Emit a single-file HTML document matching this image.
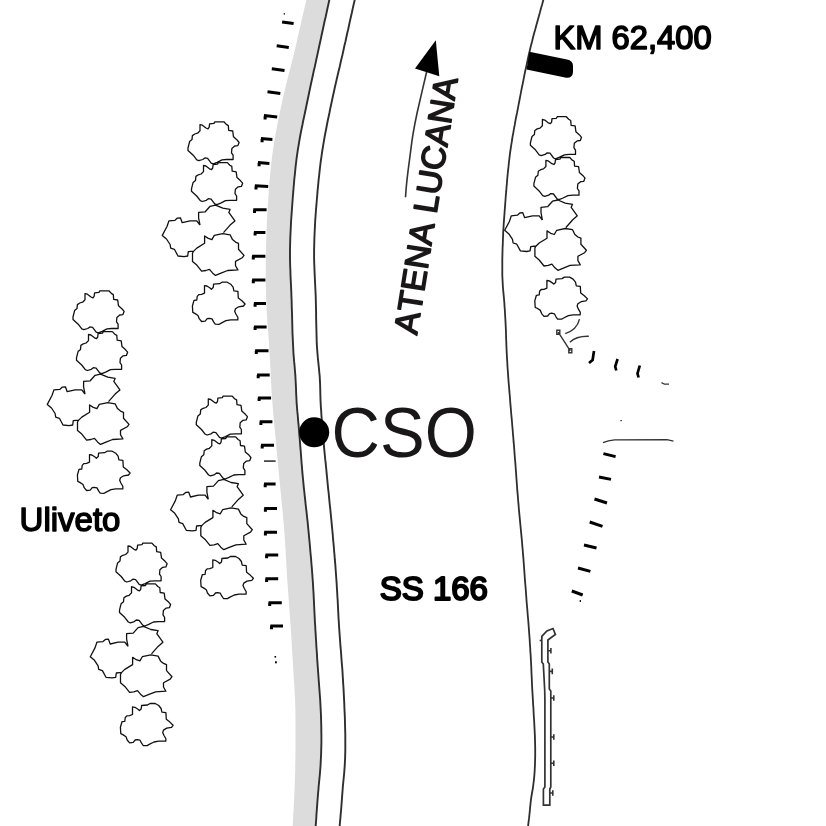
<!DOCTYPE html>
<html lang="it"><head><meta charset="utf-8"><title>CSO - SS 166</title>
<style>html,body{margin:0;padding:0;background:#fff}body{width:826px;height:826px;overflow:hidden}svg{display:block;will-change:transform}text{font-family:"Liberation Sans",Arial,Helvetica,sans-serif;fill:#000}.b{font-size:33px;font-kerning:none;stroke:#000;stroke-width:2px;stroke-linejoin:round}.u{font-size:33px;stroke:#000;stroke-width:1.5px;stroke-linejoin:round}.ln{fill:none;stroke:#2e2e2e;stroke-width:1.9;stroke-linejoin:round}.tr{fill:none;stroke:#111;stroke-width:1.3;stroke-linejoin:round}.tk{fill:none;stroke:#000;stroke-width:3;stroke-linecap:butt}.th{fill:none;stroke:#333;stroke-width:1.4}</style></head><body>
<svg width="826" height="826" viewBox="0 0 826 826">
<rect width="826" height="826" fill="#fff"/>
<path d="M308.6,-10.0L307.5,-5.0L306.3,0.0L305.3,4.2L304.4,8.3L303.4,12.5L302.5,16.7L301.5,20.8L300.6,25.0L299.6,29.2L298.7,33.3L297.7,37.5L296.8,41.7L295.8,45.8L294.8,50.0L293.8,54.2L292.8,58.3L291.7,62.5L290.7,66.7L289.6,70.8L288.5,75.0L287.5,79.2L286.4,83.3L285.4,87.5L284.4,91.7L283.4,95.8L282.5,100.0L281.6,104.2L280.7,108.3L279.8,112.5L279.0,116.7L278.1,120.8L277.3,125.0L276.5,129.2L275.7,133.3L275.0,137.5L274.3,141.7L273.6,145.8L273.0,150.0L272.4,154.2L271.9,158.3L271.4,162.5L271.0,166.7L270.5,170.8L270.1,175.0L269.8,179.2L269.4,183.3L269.1,187.5L268.8,191.7L268.5,195.8L268.2,200.0L267.9,204.2L267.7,208.3L267.4,212.5L267.2,216.7L267.0,220.8L266.8,225.0L266.6,229.2L266.5,233.3L266.3,237.5L266.2,241.7L266.1,245.8L266.0,250.0L265.9,254.2L265.9,258.3L265.8,262.5L265.8,266.7L265.8,270.8L265.8,275.0L265.8,279.2L265.8,283.3L265.9,287.5L266.0,291.7L266.1,295.8L266.2,300.0L266.4,304.2L266.6,308.3L266.8,312.5L267.1,316.7L267.3,320.8L267.6,325.0L267.9,329.2L268.3,333.3L268.6,337.5L268.9,341.7L269.1,345.8L269.4,350.0L269.6,354.2L269.9,358.3L270.1,362.5L270.3,366.7L270.5,370.8L270.7,375.0L270.9,379.2L271.1,383.3L271.4,387.5L271.6,391.7L271.9,395.8L272.2,400.0L272.5,403.8L272.8,407.5L273.1,411.2L273.4,415.0L273.8,418.8L274.1,422.5L274.5,426.2L274.8,430.0L275.2,434.2L275.6,438.3L275.9,442.5L276.3,446.7L276.7,450.8L277.1,455.0L277.5,459.2L277.9,463.3L278.3,467.5L278.7,471.7L279.1,475.8L279.5,480.0L279.9,484.2L280.3,488.3L280.7,492.5L281.1,496.7L281.5,500.8L281.9,505.0L282.4,509.2L282.8,513.3L283.1,517.5L283.5,521.7L283.9,525.8L284.2,530.0L284.5,534.2L284.8,538.3L285.1,542.5L285.3,546.7L285.6,550.8L285.8,555.0L286.1,559.2L286.3,563.3L286.5,567.5L286.8,571.7L287.0,575.8L287.3,580.0L287.6,584.2L287.9,588.3L288.2,592.5L288.5,596.7L288.8,600.8L289.1,605.0L289.4,609.2L289.7,613.3L290.0,617.5L290.3,621.7L290.6,625.8L290.9,630.0L291.2,634.2L291.4,638.3L291.7,642.5L291.9,646.7L292.2,650.8L292.4,655.0L292.7,659.2L292.9,663.3L293.2,667.5L293.4,671.7L293.7,675.8L293.9,680.0L294.2,684.0L294.4,688.0L294.7,692.0L294.9,696.0L295.1,700.0L295.2,703.8L295.3,707.5L295.4,711.2L295.4,715.0L295.5,718.8L295.5,722.5L295.5,726.2L295.5,730.0L295.5,734.0L295.5,738.0L295.5,742.0L295.5,746.0L295.5,750.0L295.4,754.0L295.4,758.0L295.3,762.0L295.2,766.0L295.2,770.0L295.1,774.0L295.0,778.0L294.8,782.0L294.7,786.0L294.5,790.0L294.4,794.0L294.2,798.0L294.0,802.0L293.8,806.0L293.6,810.0L293.3,814.0L293.1,818.0L292.9,822.0L292.7,826.0L292.4,831.0L292.2,836.0L315.0,836.0L315.3,831.0L315.7,826.0L316.0,822.0L316.3,818.0L316.5,814.0L316.8,810.0L317.1,806.0L317.4,802.0L317.7,798.0L318.0,794.0L318.4,790.0L318.7,786.0L319.1,782.0L319.5,778.0L319.9,774.0L320.2,770.0L320.5,766.1L320.7,762.2L320.9,758.3L321.1,754.4L321.2,750.6L321.3,746.7L321.4,742.8L321.4,738.9L321.4,735.0L321.3,731.1L321.3,727.2L321.2,723.3L321.1,719.4L321.0,715.6L320.8,711.7L320.6,707.8L320.4,703.9L320.2,700.0L319.9,696.0L319.6,692.0L319.3,688.0L319.0,684.0L318.7,680.0L318.4,675.8L318.1,671.7L317.8,667.5L317.5,663.3L317.2,659.2L317.0,655.0L316.7,650.8L316.4,646.7L316.2,642.5L315.9,638.3L315.7,634.2L315.4,630.0L315.2,625.8L314.9,621.7L314.7,617.5L314.5,613.3L314.3,609.2L314.1,605.0L313.9,600.8L313.7,596.7L313.5,592.5L313.2,588.3L313.0,584.2L312.7,580.0L312.4,575.8L312.1,571.7L311.8,567.5L311.4,563.3L311.1,559.2L310.7,555.0L310.3,550.8L310.0,546.7L309.6,542.5L309.2,538.3L308.8,534.2L308.4,530.0L308.0,525.8L307.6,521.7L307.1,517.5L306.7,513.3L306.2,509.2L305.7,505.0L305.3,500.8L304.8,496.7L304.4,492.5L303.9,488.3L303.5,484.2L303.1,480.0L302.7,475.8L302.3,471.7L302.0,467.5L301.6,463.3L301.3,459.2L301.0,455.0L300.7,450.8L300.3,446.7L300.0,442.5L299.7,438.3L299.3,434.2L299.0,430.0L298.7,426.2L298.3,422.5L298.0,418.8L297.7,415.0L297.3,411.2L297.0,407.5L296.7,403.8L296.5,400.0L296.3,396.0L296.1,392.0L296.0,388.0L295.8,384.0L295.6,380.0L295.4,376.2L295.1,372.5L294.8,368.8L294.5,365.0L294.1,361.2L293.8,357.5L293.5,353.8L293.3,350.0L293.1,345.8L292.9,341.7L292.7,337.5L292.5,333.3L292.4,329.2L292.3,325.0L292.2,320.8L292.1,316.7L292.0,312.5L291.8,308.3L291.7,304.2L291.6,300.0L291.4,295.8L291.3,291.7L291.1,287.5L290.9,283.3L290.7,279.2L290.5,275.0L290.4,270.8L290.2,266.7L290.1,262.5L290.0,258.3L290.0,254.2L290.0,250.0L290.1,245.8L290.2,241.7L290.3,237.5L290.5,233.3L290.7,229.2L290.9,225.0L291.1,220.8L291.4,216.7L291.7,212.5L292.0,208.3L292.3,204.2L292.6,200.0L292.9,195.8L293.3,191.7L293.6,187.5L294.0,183.3L294.3,179.2L294.8,175.0L295.2,170.8L295.6,166.7L296.1,162.5L296.6,158.3L297.2,154.2L297.8,150.0L298.5,145.8L299.2,141.7L299.9,137.5L300.7,133.3L301.5,129.2L302.4,125.0L303.2,120.8L304.1,116.7L305.0,112.5L305.9,108.3L306.7,104.2L307.6,100.0L308.5,95.8L309.3,91.7L310.2,87.5L311.1,83.3L312.0,79.2L312.9,75.0L313.8,70.8L314.8,66.7L315.7,62.5L316.6,58.3L317.5,54.2L318.4,50.0L319.3,45.8L320.2,41.7L321.1,37.5L322.0,33.3L322.9,29.2L323.8,25.0L324.7,20.8L325.7,16.7L326.6,12.5L327.5,8.3L328.4,4.2L329.3,0.0L330.4,-5.0L331.5,-10.0Z" fill="#dcdcdc"/>
<path class="ln" d="M331.5,-10.0L330.4,-5.0L329.3,0.0L328.4,4.2L327.5,8.3L326.6,12.5L325.7,16.7L324.7,20.8L323.8,25.0L322.9,29.2L322.0,33.3L321.1,37.5L320.2,41.7L319.3,45.8L318.4,50.0L317.5,54.2L316.6,58.3L315.7,62.5L314.8,66.7L313.8,70.8L312.9,75.0L312.0,79.2L311.1,83.3L310.2,87.5L309.3,91.7L308.5,95.8L307.6,100.0L306.7,104.2L305.9,108.3L305.0,112.5L304.1,116.7L303.2,120.8L302.4,125.0L301.5,129.2L300.7,133.3L299.9,137.5L299.2,141.7L298.5,145.8L297.8,150.0L297.2,154.2L296.6,158.3L296.1,162.5L295.6,166.7L295.2,170.8L294.8,175.0L294.3,179.2L294.0,183.3L293.6,187.5L293.3,191.7L292.9,195.8L292.6,200.0L292.3,204.2L292.0,208.3L291.7,212.5L291.4,216.7L291.1,220.8L290.9,225.0L290.7,229.2L290.5,233.3L290.3,237.5L290.2,241.7L290.1,245.8L290.0,250.0L290.0,254.2L290.0,258.3L290.1,262.5L290.2,266.7L290.4,270.8L290.5,275.0L290.7,279.2L290.9,283.3L291.1,287.5L291.3,291.7L291.4,295.8L291.6,300.0L291.7,304.2L291.8,308.3L292.0,312.5L292.1,316.7L292.2,320.8L292.3,325.0L292.4,329.2L292.5,333.3L292.7,337.5L292.9,341.7L293.1,345.8L293.3,350.0L293.5,353.8L293.8,357.5L294.1,361.2L294.5,365.0L294.8,368.8L295.1,372.5L295.4,376.2L295.6,380.0L295.8,384.0L296.0,388.0L296.1,392.0L296.3,396.0L296.5,400.0L296.7,403.8L297.0,407.5L297.3,411.2L297.7,415.0L298.0,418.8L298.3,422.5L298.7,426.2L299.0,430.0L299.3,434.2L299.7,438.3L300.0,442.5L300.3,446.7L300.7,450.8L301.0,455.0L301.3,459.2L301.6,463.3L302.0,467.5L302.3,471.7L302.7,475.8L303.1,480.0L303.5,484.2L303.9,488.3L304.4,492.5L304.8,496.7L305.3,500.8L305.7,505.0L306.2,509.2L306.7,513.3L307.1,517.5L307.6,521.7L308.0,525.8L308.4,530.0L308.8,534.2L309.2,538.3L309.6,542.5L310.0,546.7L310.3,550.8L310.7,555.0L311.1,559.2L311.4,563.3L311.8,567.5L312.1,571.7L312.4,575.8L312.7,580.0L313.0,584.2L313.2,588.3L313.5,592.5L313.7,596.7L313.9,600.8L314.1,605.0L314.3,609.2L314.5,613.3L314.7,617.5L314.9,621.7L315.2,625.8L315.4,630.0L315.7,634.2L315.9,638.3L316.2,642.5L316.4,646.7L316.7,650.8L317.0,655.0L317.2,659.2L317.5,663.3L317.8,667.5L318.1,671.7L318.4,675.8L318.7,680.0L319.0,684.0L319.3,688.0L319.6,692.0L319.9,696.0L320.2,700.0L320.4,703.9L320.6,707.8L320.8,711.7L321.0,715.6L321.1,719.4L321.2,723.3L321.3,727.2L321.3,731.1L321.4,735.0L321.4,738.9L321.4,742.8L321.3,746.7L321.2,750.6L321.1,754.4L320.9,758.3L320.7,762.2L320.5,766.1L320.2,770.0L319.9,774.0L319.5,778.0L319.1,782.0L318.7,786.0L318.4,790.0L318.0,794.0L317.7,798.0L317.4,802.0L317.1,806.0L316.8,810.0L316.5,814.0L316.3,818.0L316.0,822.0L315.7,826.0L315.3,831.0L315.0,836.0"/>
<path class="ln" d="M357.0,-10.0L355.8,-5.0L354.7,0.0L353.7,4.2L352.8,8.3L351.9,12.5L350.9,16.7L350.0,20.8L349.1,25.0L348.2,29.2L347.2,33.3L346.3,37.5L345.4,41.7L344.4,45.8L343.5,50.0L342.6,54.2L341.6,58.3L340.6,62.5L339.7,66.7L338.7,70.8L337.7,75.0L336.7,79.2L335.8,83.3L334.8,87.5L333.9,91.7L333.0,95.8L332.1,100.0L331.2,104.2L330.3,108.3L329.5,112.5L328.6,116.7L327.7,120.8L326.9,125.0L326.1,129.2L325.3,133.3L324.5,137.5L323.8,141.7L323.1,145.8L322.4,150.0L321.8,154.2L321.2,158.3L320.6,162.5L320.1,166.7L319.6,170.8L319.2,175.0L318.7,179.2L318.3,183.3L317.9,187.5L317.5,191.7L317.2,195.8L316.8,200.0L316.5,204.2L316.1,208.3L315.8,212.5L315.5,216.7L315.2,220.8L315.0,225.0L314.8,229.2L314.6,233.3L314.4,237.5L314.3,241.7L314.2,245.8L314.1,250.0L314.1,254.2L314.1,258.3L314.2,262.5L314.4,266.7L314.5,270.8L314.7,275.0L314.9,279.2L315.1,283.3L315.3,287.5L315.5,291.7L315.7,295.8L315.8,300.0L315.9,304.2L316.0,308.3L316.1,312.5L316.1,316.7L316.2,320.8L316.3,325.0L316.4,329.2L316.5,333.3L316.6,337.5L316.7,341.7L316.9,345.8L317.2,350.0L317.5,353.8L317.8,357.5L318.2,361.2L318.6,365.0L319.0,368.8L319.3,372.5L319.7,376.2L319.9,380.0L320.1,384.0L320.2,388.0L320.3,392.0L320.4,396.0L320.5,400.0L320.7,403.8L320.9,407.5L321.2,411.2L321.4,415.0L321.7,418.8L322.0,422.5L322.3,426.2L322.6,430.0L322.9,434.2L323.3,438.3L323.7,442.5L324.0,446.7L324.4,450.8L324.8,455.0L325.2,459.2L325.7,463.3L326.1,467.5L326.5,471.7L326.9,475.8L327.3,480.0L327.7,484.2L328.1,488.3L328.6,492.5L329.0,496.7L329.4,500.8L329.8,505.0L330.3,509.2L330.7,513.3L331.1,517.5L331.5,521.7L331.9,525.8L332.3,530.0L332.7,534.2L333.0,538.3L333.4,542.5L333.8,546.7L334.1,550.8L334.5,555.0L334.8,559.2L335.2,563.3L335.5,567.5L335.8,571.7L336.1,575.8L336.4,580.0L336.7,584.2L336.9,588.3L337.2,592.5L337.4,596.7L337.7,600.8L337.9,605.0L338.1,609.2L338.3,613.3L338.5,617.5L338.8,621.7L339.0,625.8L339.3,630.0L339.6,634.2L339.9,638.3L340.2,642.5L340.5,646.7L340.9,650.8L341.2,655.0L341.5,659.2L341.8,663.3L342.2,667.5L342.5,671.7L342.7,675.8L343.0,680.0L343.2,684.0L343.5,688.0L343.7,692.0L343.9,696.0L344.1,700.0L344.3,703.9L344.4,707.8L344.6,711.7L344.8,715.6L344.9,719.4L345.0,723.3L345.1,727.2L345.2,731.1L345.3,735.0L345.3,738.9L345.3,742.8L345.3,746.7L345.3,750.6L345.2,754.4L345.1,758.3L344.9,762.2L344.7,766.1L344.4,770.0L344.1,774.0L343.7,778.0L343.3,782.0L342.9,786.0L342.6,790.0L342.3,794.0L342.0,798.0L341.7,802.0L341.4,806.0L341.1,810.0L340.7,814.0L340.4,818.0L340.0,822.0L339.7,826.0L339.3,831.0L339.0,836.0"/>
<path class="ln" style="stroke-width:1.8" transform="translate(-.3 0)" d="M546.3,-10.0L544.9,-5.0L543.6,0.0L542.5,4.2L541.3,8.3L540.2,12.5L539.0,16.7L537.9,20.8L536.7,25.0L535.6,29.2L534.4,33.3L533.3,37.5L532.3,41.7L531.2,45.8L530.2,50.0L529.2,54.2L528.3,58.3L527.4,62.5L526.5,66.7L525.6,70.8L524.7,75.0L523.9,79.2L523.1,83.3L522.2,87.5L521.4,91.7L520.6,95.8L519.8,100.0L519.0,104.2L518.2,108.3L517.4,112.5L516.5,116.7L515.7,120.8L515.0,125.0L514.2,129.2L513.5,133.3L512.7,137.5L512.1,141.7L511.4,145.8L510.8,150.0L510.2,154.2L509.7,158.3L509.2,162.5L508.8,166.7L508.3,170.8L507.9,175.0L507.5,179.2L507.2,183.3L506.8,187.5L506.5,191.7L506.1,195.8L505.8,200.0L505.5,204.0L505.2,208.0L504.9,212.0L504.6,216.0L504.3,220.0L504.0,224.0L503.8,228.0L503.5,232.0L503.4,236.0L503.2,240.0L503.1,243.9L502.9,247.8L502.8,251.8L502.7,255.7L502.6,259.6L502.6,263.5L502.6,267.4L502.6,271.3L502.6,275.2L502.8,279.2L503.0,283.1L503.2,287.0L503.6,291.3L504.0,295.7L504.4,300.0L504.7,303.7L504.9,307.3L505.2,311.0L505.4,314.7L505.6,318.3L505.8,322.0L506.0,326.0L506.2,330.0L506.3,334.0L506.4,338.0L506.6,342.0L506.7,346.0L506.9,350.0L507.1,354.2L507.3,358.3L507.6,362.5L507.8,366.7L508.1,370.8L508.4,375.0L508.7,379.2L509.0,383.3L509.4,387.5L509.7,391.7L510.1,395.8L510.4,400.0L510.7,404.2L511.1,408.3L511.4,412.5L511.8,416.7L512.2,420.8L512.5,425.0L512.9,429.2L513.2,433.3L513.6,437.5L513.9,441.7L514.3,445.8L514.6,450.0L514.9,454.2L515.2,458.3L515.6,462.5L515.9,466.7L516.2,470.8L516.5,475.0L516.8,479.2L517.1,483.3L517.4,487.5L517.7,491.7L518.1,495.8L518.4,500.0L518.8,504.2L519.1,508.3L519.5,512.5L519.9,516.7L520.3,520.8L520.7,525.0L521.1,529.2L521.5,533.3L521.9,537.5L522.3,541.7L522.6,545.8L523.0,550.0L523.3,554.2L523.7,558.3L524.0,562.5L524.3,566.7L524.6,570.8L524.9,575.0L525.2,579.2L525.5,583.3L525.9,587.5L526.2,591.7L526.5,595.8L526.8,600.0L527.1,604.0L527.5,608.0L527.8,612.0L528.1,616.0L528.5,620.0L528.8,624.0L529.1,628.0L529.4,632.0L529.7,636.0L530.0,640.0L530.2,644.0L530.5,648.0L530.7,652.0L531.0,656.0L531.2,660.0L531.4,663.8L531.6,667.5L531.7,671.2L531.9,675.0L532.1,678.8L532.2,682.5L532.4,686.2L532.6,690.0L532.9,695.0L533.2,700.0L533.4,704.0L533.7,708.0L533.9,712.0L534.1,716.0L534.4,720.0L534.6,724.0L534.8,728.0L535.0,732.0L535.2,736.0L535.3,740.0L535.4,744.0L535.5,748.0L535.5,752.0L535.5,756.0L535.4,760.0L535.3,764.0L535.1,768.0L534.9,772.0L534.6,776.0L534.2,780.0L533.7,784.0L533.2,788.0L532.5,792.0L531.8,796.0L531.2,800.0L530.8,803.8L530.4,807.5L530.1,811.2L529.7,815.0L529.3,818.7L528.8,822.3L528.4,826.0L527.8,831.0L527.2,836.0"/>
<path class="tk" d="M282.1,22.0L293.6,23.6M276.7,45.8L288.8,47.4M271.8,68.8L284.5,70.4M267.5,91.8L280.3,93.4M263.9,115.5L277.2,117.1M265.1,116.3v3.2M260.9,138.6L272.4,139.4M262.1,139.0v3.2M257.9,162.6L269.4,163.4M259.1,163.0v3.2M254.8,185.8L268.2,186.6M256.0,186.2v3.2M253.3,209.7L266.6,209.7M254.5,209.7v3.2M253.9,232.4L265.4,232.4M255.1,232.4v3.2M252.1,256.3L265.4,256.3M253.3,256.3v3.2M252.1,280.1L265.4,280.1M253.3,280.1v3.2M253.9,303.6L266.0,303.6M255.1,303.6v3.2M253.9,326.9L266.6,326.9M255.1,326.9v3.2M255.1,350.8L268.5,350.8M256.3,350.8v3.2M257.0,375.0L269.7,375.0M258.2,375.0v3.2M257.9,397.9L271.1,397.9M259.1,397.9v3.2M259.7,421.8L272.4,421.8M260.9,421.8v3.2M261.0,445.2L274.0,445.2M262.2,445.2v3.2M264.0,484.1L275.6,484.1M265.2,484.1v3.2M264.2,508.5L277.0,508.5M265.4,508.5v3.2M264.2,532.3L277.0,532.3M265.4,532.3v3.2M265.4,555.0L278.2,555.0M266.6,555.0v3.2M265.4,578.7L278.2,578.7M266.6,578.7v3.2M268.5,602.8L281.8,602.8M269.7,602.8v3.2M270.3,626.0L283.0,626.0M271.5,626.0v3.2"/>
<path class="tk" d="M603.4,453.6L615.6,456.6M599.0,477.0L611.0,479.4M594.5,499.0L607.0,503.0M589.7,522.0L602.5,526.4M584.0,545.0L596.5,548.0M578.0,568.0L590.4,571.4M571.8,591.0L582.7,595.0"/>
<path class="tr" transform="translate(0.0 0.0)" d="M200.0,124.6L202.4,125.2L206.0,128.0L208.0,128.8L209.2,127.2L209.6,123.8L214.0,123.4L214.8,121.8L223.9,121.8L226.3,124.4L228.3,125.6L228.7,130.4L232.7,131.0L233.5,136.8L237.1,140.0L239.1,142.4L237.9,145.6L234.7,146.0L231.9,148.4L231.5,152.8L233.1,155.2L233.1,159.5L226.7,159.5L222.0,159.9L217.2,162.3L213.2,163.9L211.2,163.1L207.6,158.3L204.8,157.9L202.8,159.5L198.8,160.7L196.8,159.9L193.2,155.2L188.0,150.4L188.0,148.0L189.6,141.6L192.0,139.6L192.4,135.6L194.8,134.0L197.6,133.2L200.0,130.8ZM203.5,165.4L205.9,166.0L209.5,168.8L211.5,169.6L212.7,168.0L213.1,164.6L217.5,164.2L218.3,162.6L227.4,162.6L229.8,165.2L231.8,166.4L232.2,171.2L236.2,171.8L237.0,177.6L240.6,180.8L242.6,183.2L241.4,186.4L238.2,186.8L235.4,189.2L235.0,193.6L236.6,196.0L236.6,200.3L230.2,200.3L225.5,200.7L220.7,203.1L216.7,204.7L214.7,203.9L211.1,199.1L208.3,198.7L206.3,200.3L202.3,201.5L200.3,200.7L196.7,196.0L191.5,191.2L191.5,188.8L193.1,182.4L195.5,180.4L195.9,176.4L198.3,174.8L201.1,174.0L203.5,171.6ZM200.0,225.1L198.6,217.8L198.6,212.4L205.2,211.8L210.1,206.3L215.5,205.1L222.8,208.2L230.1,209.4L228.8,212.4L234.9,220.9L230.1,225.1L223.5,232.6M200.0,225.1L196.8,220.9L190.1,220.9L182.2,222.7L180.4,217.8L177.4,218.1L175.0,220.3L168.9,220.9L167.1,226.3L162.3,235.4L166.5,239.0L170.1,244.5L170.7,248.1L174.4,249.3L178.0,256.0L184.1,256.6L187.7,256.0L188.3,251.7L193.7,251.1M204.6,236.0L208.3,238.4L211.9,239.6L214.3,235.4L222.8,233.6L230.1,234.8L232.5,239.6L235.5,242.1L238.5,243.3L238.5,249.3L244.0,255.4L242.2,257.8L235.5,261.4L235.5,265.7L237.9,269.9L227.6,270.5L221.6,272.9L215.5,275.4L212.5,272.9L209.5,269.3L205.8,270.5L201.6,271.1L196.8,265.1L192.5,261.4L192.5,253.0L193.7,251.1L196.8,248.1L204.6,243.3ZM204.5,285.6L206.9,286.0L210.0,288.0L211.4,289.2L213.2,287.6L213.6,284.2L219.6,283.7L222.0,282.2L227.2,282.2L230.7,284.2L233.1,287.2L233.9,290.9L237.9,291.4L238.3,298.0L241.9,300.8L245.1,304.0L243.5,306.0L238.7,306.8L235.5,308.8L234.7,311.2L235.9,314.0L237.9,317.5L237.8,319.9L230.7,319.9L226.0,320.7L221.2,323.1L219.2,324.3L215.2,324.2L213.6,321.9L212.0,318.9L209.2,318.3L207.2,318.7L205.2,321.1L201.6,321.5L199.2,318.7L198.0,315.5L195.2,313.6L192.8,312.4L192.4,306.0L194.0,300.4L196.8,300.0L197.2,296.4L198.8,294.6L201.6,294.4L204.5,293.2Z"/>
<path class="tr" transform="translate(-115.0 169.0)" d="M200.0,124.6L202.4,125.2L206.0,128.0L208.0,128.8L209.2,127.2L209.6,123.8L214.0,123.4L214.8,121.8L223.9,121.8L226.3,124.4L228.3,125.6L228.7,130.4L232.7,131.0L233.5,136.8L237.1,140.0L239.1,142.4L237.9,145.6L234.7,146.0L231.9,148.4L231.5,152.8L233.1,155.2L233.1,159.5L226.7,159.5L222.0,159.9L217.2,162.3L213.2,163.9L211.2,163.1L207.6,158.3L204.8,157.9L202.8,159.5L198.8,160.7L196.8,159.9L193.2,155.2L188.0,150.4L188.0,148.0L189.6,141.6L192.0,139.6L192.4,135.6L194.8,134.0L197.6,133.2L200.0,130.8ZM203.5,165.4L205.9,166.0L209.5,168.8L211.5,169.6L212.7,168.0L213.1,164.6L217.5,164.2L218.3,162.6L227.4,162.6L229.8,165.2L231.8,166.4L232.2,171.2L236.2,171.8L237.0,177.6L240.6,180.8L242.6,183.2L241.4,186.4L238.2,186.8L235.4,189.2L235.0,193.6L236.6,196.0L236.6,200.3L230.2,200.3L225.5,200.7L220.7,203.1L216.7,204.7L214.7,203.9L211.1,199.1L208.3,198.7L206.3,200.3L202.3,201.5L200.3,200.7L196.7,196.0L191.5,191.2L191.5,188.8L193.1,182.4L195.5,180.4L195.9,176.4L198.3,174.8L201.1,174.0L203.5,171.6ZM200.0,225.1L198.6,217.8L198.6,212.4L205.2,211.8L210.1,206.3L215.5,205.1L222.8,208.2L230.1,209.4L228.8,212.4L234.9,220.9L230.1,225.1L223.5,232.6M200.0,225.1L196.8,220.9L190.1,220.9L182.2,222.7L180.4,217.8L177.4,218.1L175.0,220.3L168.9,220.9L167.1,226.3L162.3,235.4L166.5,239.0L170.1,244.5L170.7,248.1L174.4,249.3L178.0,256.0L184.1,256.6L187.7,256.0L188.3,251.7L193.7,251.1M204.6,236.0L208.3,238.4L211.9,239.6L214.3,235.4L222.8,233.6L230.1,234.8L232.5,239.6L235.5,242.1L238.5,243.3L238.5,249.3L244.0,255.4L242.2,257.8L235.5,261.4L235.5,265.7L237.9,269.9L227.6,270.5L221.6,272.9L215.5,275.4L212.5,272.9L209.5,269.3L205.8,270.5L201.6,271.1L196.8,265.1L192.5,261.4L192.5,253.0L193.7,251.1L196.8,248.1L204.6,243.3ZM204.5,285.6L206.9,286.0L210.0,288.0L211.4,289.2L213.2,287.6L213.6,284.2L219.6,283.7L222.0,282.2L227.2,282.2L230.7,284.2L233.1,287.2L233.9,290.9L237.9,291.4L238.3,298.0L241.9,300.8L245.1,304.0L243.5,306.0L238.7,306.8L235.5,308.8L234.7,311.2L235.9,314.0L237.9,317.5L237.8,319.9L230.7,319.9L226.0,320.7L221.2,323.1L219.2,324.3L215.2,324.2L213.6,321.9L212.0,318.9L209.2,318.3L207.2,318.7L205.2,321.1L201.6,321.5L199.2,318.7L198.0,315.5L195.2,313.6L192.8,312.4L192.4,306.0L194.0,300.4L196.8,300.0L197.2,296.4L198.8,294.6L201.6,294.4L204.5,293.2Z"/>
<path class="tr" transform="translate(8.3 274.3)" d="M200.0,124.6L202.4,125.2L206.0,128.0L208.0,128.8L209.2,127.2L209.6,123.8L214.0,123.4L214.8,121.8L223.9,121.8L226.3,124.4L228.3,125.6L228.7,130.4L232.7,131.0L233.5,136.8L237.1,140.0L239.1,142.4L237.9,145.6L234.7,146.0L231.9,148.4L231.5,152.8L233.1,155.2L233.1,159.5L226.7,159.5L222.0,159.9L217.2,162.3L213.2,163.9L211.2,163.1L207.6,158.3L204.8,157.9L202.8,159.5L198.8,160.7L196.8,159.9L193.2,155.2L188.0,150.4L188.0,148.0L189.6,141.6L192.0,139.6L192.4,135.6L194.8,134.0L197.6,133.2L200.0,130.8ZM203.5,165.4L205.9,166.0L209.5,168.8L211.5,169.6L212.7,168.0L213.1,164.6L217.5,164.2L218.3,162.6L227.4,162.6L229.8,165.2L231.8,166.4L232.2,171.2L236.2,171.8L237.0,177.6L240.6,180.8L242.6,183.2L241.4,186.4L238.2,186.8L235.4,189.2L235.0,193.6L236.6,196.0L236.6,200.3L230.2,200.3L225.5,200.7L220.7,203.1L216.7,204.7L214.7,203.9L211.1,199.1L208.3,198.7L206.3,200.3L202.3,201.5L200.3,200.7L196.7,196.0L191.5,191.2L191.5,188.8L193.1,182.4L195.5,180.4L195.9,176.4L198.3,174.8L201.1,174.0L203.5,171.6ZM200.0,225.1L198.6,217.8L198.6,212.4L205.2,211.8L210.1,206.3L215.5,205.1L222.8,208.2L230.1,209.4L228.8,212.4L234.9,220.9L230.1,225.1L223.5,232.6M200.0,225.1L196.8,220.9L190.1,220.9L182.2,222.7L180.4,217.8L177.4,218.1L175.0,220.3L168.9,220.9L167.1,226.3L162.3,235.4L166.5,239.0L170.1,244.5L170.7,248.1L174.4,249.3L178.0,256.0L184.1,256.6L187.7,256.0L188.3,251.7L193.7,251.1M204.6,236.0L208.3,238.4L211.9,239.6L214.3,235.4L222.8,233.6L230.1,234.8L232.5,239.6L235.5,242.1L238.5,243.3L238.5,249.3L244.0,255.4L242.2,257.8L235.5,261.4L235.5,265.7L237.9,269.9L227.6,270.5L221.6,272.9L215.5,275.4L212.5,272.9L209.5,269.3L205.8,270.5L201.6,271.1L196.8,265.1L192.5,261.4L192.5,253.0L193.7,251.1L196.8,248.1L204.6,243.3ZM204.5,285.6L206.9,286.0L210.0,288.0L211.4,289.2L213.2,287.6L213.6,284.2L219.6,283.7L222.0,282.2L227.2,282.2L230.7,284.2L233.1,287.2L233.9,290.9L237.9,291.4L238.3,298.0L241.9,300.8L245.1,304.0L243.5,306.0L238.7,306.8L235.5,308.8L234.7,311.2L235.9,314.0L237.9,317.5L237.8,319.9L230.7,319.9L226.0,320.7L221.2,323.1L219.2,324.3L215.2,324.2L213.6,321.9L212.0,318.9L209.2,318.3L207.2,318.7L205.2,321.1L201.6,321.5L199.2,318.7L198.0,315.5L195.2,313.6L192.8,312.4L192.4,306.0L194.0,300.4L196.8,300.0L197.2,296.4L198.8,294.6L201.6,294.4L204.5,293.2Z"/>
<path class="tr" transform="translate(-72.0 421.3)" d="M200.0,124.6L202.4,125.2L206.0,128.0L208.0,128.8L209.2,127.2L209.6,123.8L214.0,123.4L214.8,121.8L223.9,121.8L226.3,124.4L228.3,125.6L228.7,130.4L232.7,131.0L233.5,136.8L237.1,140.0L239.1,142.4L237.9,145.6L234.7,146.0L231.9,148.4L231.5,152.8L233.1,155.2L233.1,159.5L226.7,159.5L222.0,159.9L217.2,162.3L213.2,163.9L211.2,163.1L207.6,158.3L204.8,157.9L202.8,159.5L198.8,160.7L196.8,159.9L193.2,155.2L188.0,150.4L188.0,148.0L189.6,141.6L192.0,139.6L192.4,135.6L194.8,134.0L197.6,133.2L200.0,130.8ZM203.5,165.4L205.9,166.0L209.5,168.8L211.5,169.6L212.7,168.0L213.1,164.6L217.5,164.2L218.3,162.6L227.4,162.6L229.8,165.2L231.8,166.4L232.2,171.2L236.2,171.8L237.0,177.6L240.6,180.8L242.6,183.2L241.4,186.4L238.2,186.8L235.4,189.2L235.0,193.6L236.6,196.0L236.6,200.3L230.2,200.3L225.5,200.7L220.7,203.1L216.7,204.7L214.7,203.9L211.1,199.1L208.3,198.7L206.3,200.3L202.3,201.5L200.3,200.7L196.7,196.0L191.5,191.2L191.5,188.8L193.1,182.4L195.5,180.4L195.9,176.4L198.3,174.8L201.1,174.0L203.5,171.6ZM200.0,225.1L198.6,217.8L198.6,212.4L205.2,211.8L210.1,206.3L215.5,205.1L222.8,208.2L230.1,209.4L228.8,212.4L234.9,220.9L230.1,225.1L223.5,232.6M200.0,225.1L196.8,220.9L190.1,220.9L182.2,222.7L180.4,217.8L177.4,218.1L175.0,220.3L168.9,220.9L167.1,226.3L162.3,235.4L166.5,239.0L170.1,244.5L170.7,248.1L174.4,249.3L178.0,256.0L184.1,256.6L187.7,256.0L188.3,251.7L193.7,251.1M204.6,236.0L208.3,238.4L211.9,239.6L214.3,235.4L222.8,233.6L230.1,234.8L232.5,239.6L235.5,242.1L238.5,243.3L238.5,249.3L244.0,255.4L242.2,257.8L235.5,261.4L235.5,265.7L237.9,269.9L227.6,270.5L221.6,272.9L215.5,275.4L212.5,272.9L209.5,269.3L205.8,270.5L201.6,271.1L196.8,265.1L192.5,261.4L192.5,253.0L193.7,251.1L196.8,248.1L204.6,243.3ZM204.5,285.6L206.9,286.0L210.0,288.0L211.4,289.2L213.2,287.6L213.6,284.2L219.6,283.7L222.0,282.2L227.2,282.2L230.7,284.2L233.1,287.2L233.9,290.9L237.9,291.4L238.3,298.0L241.9,300.8L245.1,304.0L243.5,306.0L238.7,306.8L235.5,308.8L234.7,311.2L235.9,314.0L237.9,317.5L237.8,319.9L230.7,319.9L226.0,320.7L221.2,323.1L219.2,324.3L215.2,324.2L213.6,321.9L212.0,318.9L209.2,318.3L207.2,318.7L205.2,321.1L201.6,321.5L199.2,318.7L198.0,315.5L195.2,313.6L192.8,312.4L192.4,306.0L194.0,300.4L196.8,300.0L197.2,296.4L198.8,294.6L201.6,294.4L204.5,293.2Z"/>
<path class="tr" transform="translate(342.4 -5.1)" d="M200.0,124.6L202.4,125.2L206.0,128.0L208.0,128.8L209.2,127.2L209.6,123.8L214.0,123.4L214.8,121.8L223.9,121.8L226.3,124.4L228.3,125.6L228.7,130.4L232.7,131.0L233.5,136.8L237.1,140.0L239.1,142.4L237.9,145.6L234.7,146.0L231.9,148.4L231.5,152.8L233.1,155.2L233.1,159.5L226.7,159.5L222.0,159.9L217.2,162.3L213.2,163.9L211.2,163.1L207.6,158.3L204.8,157.9L202.8,159.5L198.8,160.7L196.8,159.9L193.2,155.2L188.0,150.4L188.0,148.0L189.6,141.6L192.0,139.6L192.4,135.6L194.8,134.0L197.6,133.2L200.0,130.8ZM203.5,165.4L205.9,166.0L209.5,168.8L211.5,169.6L212.7,168.0L213.1,164.6L217.5,164.2L218.3,162.6L227.4,162.6L229.8,165.2L231.8,166.4L232.2,171.2L236.2,171.8L237.0,177.6L240.6,180.8L242.6,183.2L241.4,186.4L238.2,186.8L235.4,189.2L235.0,193.6L236.6,196.0L236.6,200.3L230.2,200.3L225.5,200.7L220.7,203.1L216.7,204.7L214.7,203.9L211.1,199.1L208.3,198.7L206.3,200.3L202.3,201.5L200.3,200.7L196.7,196.0L191.5,191.2L191.5,188.8L193.1,182.4L195.5,180.4L195.9,176.4L198.3,174.8L201.1,174.0L203.5,171.6ZM200.0,225.1L198.6,217.8L198.6,212.4L205.2,211.8L210.1,206.3L215.5,205.1L222.8,208.2L230.1,209.4L228.8,212.4L234.9,220.9L230.1,225.1L223.5,232.6M200.0,225.1L196.8,220.9L190.1,220.9L182.2,222.7L180.4,217.8L177.4,218.1L175.0,220.3L168.9,220.9L167.1,226.3L162.3,235.4L166.5,239.0L170.1,244.5L170.7,248.1L174.4,249.3L178.0,256.0L184.1,256.6L187.7,256.0L188.3,251.7L193.7,251.1M204.6,236.0L208.3,238.4L211.9,239.6L214.3,235.4L222.8,233.6L230.1,234.8L232.5,239.6L235.5,242.1L238.5,243.3L238.5,249.3L244.0,255.4L242.2,257.8L235.5,261.4L235.5,265.7L237.9,269.9L227.6,270.5L221.6,272.9L215.5,275.4L212.5,272.9L209.5,269.3L205.8,270.5L201.6,271.1L196.8,265.1L192.5,261.4L192.5,253.0L193.7,251.1L196.8,248.1L204.6,243.3ZM204.5,285.6L206.9,286.0L210.0,288.0L211.4,289.2L213.2,287.6L213.6,284.2L219.6,283.7L222.0,282.2L227.2,282.2L230.7,284.2L233.1,287.2L233.9,290.9L237.9,291.4L238.3,298.0L241.9,300.8L245.1,304.0L243.5,306.0L238.7,306.8L235.5,308.8L234.7,311.2L235.9,314.0L237.9,317.5L237.8,319.9L230.7,319.9L226.0,320.7L221.2,323.1L219.2,324.3L215.2,324.2L213.6,321.9L212.0,318.9L209.2,318.3L207.2,318.7L205.2,321.1L201.6,321.5L199.2,318.7L198.0,315.5L195.2,313.6L192.8,312.4L192.4,306.0L194.0,300.4L196.8,300.0L197.2,296.4L198.8,294.6L201.6,294.4L204.5,293.2Z"/>
<path class="th" style="stroke-width:1.6" d="M426.6,72.0C425.1,78.7 419.6,101.6 417.3,112.0C415.0,122.4 414.3,126.5 413.0,134.2C411.7,141.9 410.8,150.3 409.7,158.4C408.6,166.5 407.4,176.1 406.7,182.6C406.0,189.1 405.7,194.8 405.5,197.2"/>
<path d="M435.8,40.2L415,68.5L439.3,76.2Z" fill="#000"/>
<path d="M529.4,51.8L526.6,69.6L565,77.6Q572.5,79 573,72L573,66Q573,60.5 567,59.5Z" fill="#000"/>
<circle cx="314.2" cy="432.3" r="15" fill="#000"/>
<path class="th" d="M558.2,332.2L570.3,350.8M556.8,330.2h3v4h-3zM568.8,348.8h3v4h-3z"/>
<path class="th" d="M579.5,319.2Q577,330 565.2,333.6M588.8,336.3Q576,336 569.9,342.3"/>
<path class="th" style="stroke-width:1.2" d="M603,442.6Q608,440.4 614.6,439.8L667,439.6L673.5,441.2"/>
<rect x="620.5" y="420" width="1.2" height="1.2" fill="#000"/>
<path d="M264,461.1H275.6" stroke="#333" stroke-width="1.6" fill="none"/>
<rect x="274.5" y="656" width="1.6" height="1.6" fill="#000"/><rect x="275" y="661.3" width="1.8" height="2" fill="#000"/><rect x="283.7" y="13.2" width="1.3" height="1.3" fill="#000"/>
<path class="tk" style="stroke-width:2.7" d="M594,351L592.6,360L589,363M617.6,359L615.2,366.5L616.3,370.5M639.8,365.5L637.5,373.5L638.6,377.5"/>
<path class="th" style="stroke-width:1.3" d="M661.5,382.6L664.5,384.2H669"/><rect x="579.7" y="600" width="1.2" height="2" fill="#000"/>
<path class="th" style="stroke-width:1.7" d="M543.4,805.2V789L544.9,787V700L544.7,690L543.3,664L541.8,662V636.3L546.9,630.9L553,628.5L555.4,634.5L547.9,640V662L549.3,664V689L550.8,691V787L549.8,789V805.2ZM539.6,640.5H541.8"/>
<path class="th" style="stroke-width:1.6" d="M547.9,650.8h3M550.9,648.0v5.6M549.3,671.4h3M552.3,668.6v5.6M550.8,698.0h3M553.8,695.2v5.6M550.8,737.0h3M553.8,734.2v5.6M550.8,763.3h3M553.8,760.5v5.6M549.8,793.0h3M552.8,790.2v5.6"/>
<text class="b" style="stroke-width:1.6px;font-size:32.7px" transform="translate(553.5 48.7)">KM 62,400</text>
<text class="b" transform="translate(379.7 599.9)">SS 166</text>
<text class="u" x="19.6" y="531.3">Uliveto</text>
<text transform="translate(331.6 456.5) scale(1 1.055)" style="font-size:67px;fill:#1a1718">CSO</text>
<text class="b" transform="translate(416.8 335.5) rotate(-80.9)" style="fill:#1a1718;stroke:#1a1718;stroke-width:1.6px;font-size:33.4px;letter-spacing:.34px">ATENA LUCANA</text>
</svg></body></html>
